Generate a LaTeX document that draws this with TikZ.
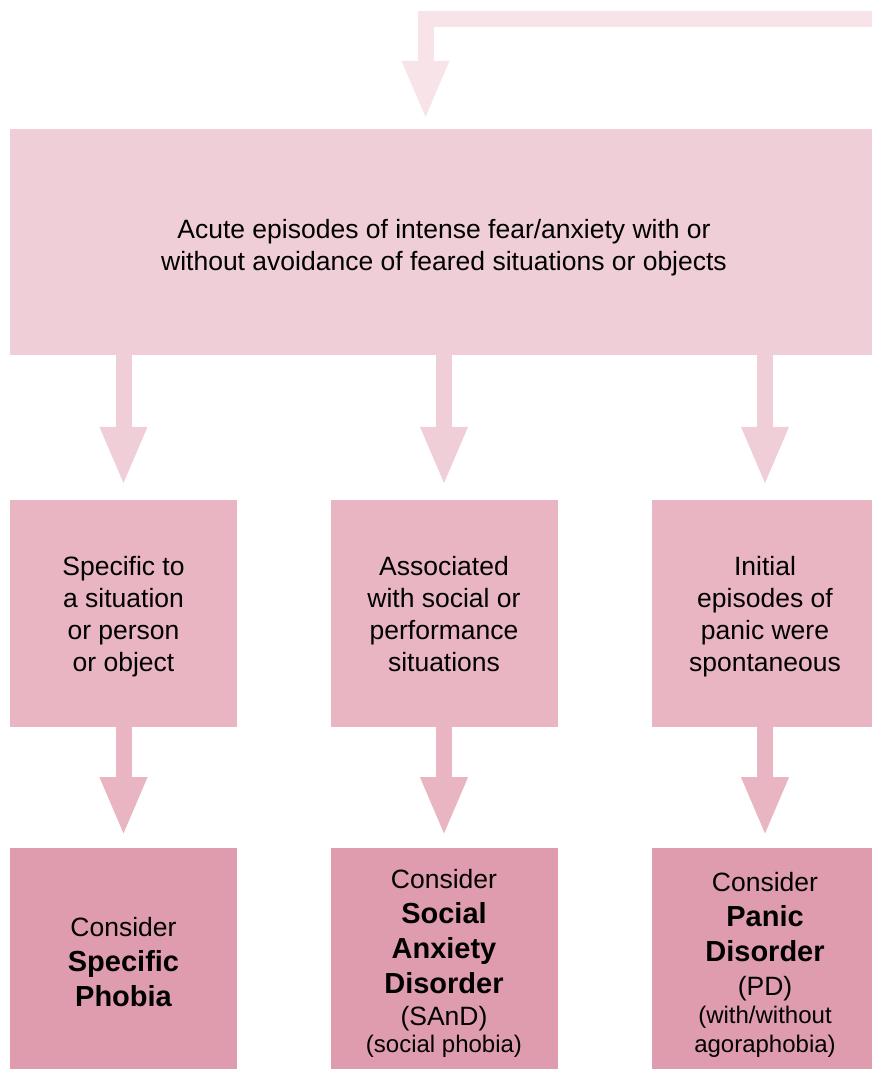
\documentclass[tikz,border=0pt]{standalone}
\usepackage{fontspec}
\setmainfont{Liberation Sans}
\usetikzlibrary{positioning,arrows.meta}
\definecolor{feedpink}{HTML}{F7E3E8}
\definecolor{toppink}{HTML}{F0CED8}
\definecolor{midpink}{HTML}{E9B5C2}
\definecolor{lowpink}{HTML}{E09CAF}
\newcommand{\bigtxt}{\fontsize{26.5}{32}\selectfont}
\newcommand{\boldtxt}{\fontsize{29}{35}\selectfont\bfseries}
\newcommand{\smalltxt}{\fontsize{24}{29}\selectfont}
\newcommand{\lift}[1]{\rule{0pt}{#1}}
\newcommand{\sink}{\rule[-5.6pt]{0pt}{5.6pt}}
\tikzset{
    symptom/.style = {fill = toppink, minimum width = 868pt, minimum height = 226pt,
                      align = center, font = \bigtxt},
    pattern/.style = {fill = midpink, minimum width = 227pt, minimum height = 227pt,
                      inner sep = 0pt, align = center, font = \bigtxt},
    verdict/.style = {fill = lowpink, minimum width = 227pt, minimum height = 221pt,
                      inner sep = 0pt, align = center, font = \bigtxt},
    blockarrow/.style = {line width = 16pt, -{Triangle[width = 43pt, length = 59pt]}},
}

\begin{document}
\begin{tikzpicture}[x = 1pt, y = -1pt]
    \useasboundingbox (0,0) rectangle (872,1069);

    \node (top) [symptom] at (444,242)
        {\lift{30pt}Acute episodes of intense fear/anxiety with or\\
         without avoidance of feared situations or objects};

    \node (spec) [pattern] at (123.5,613.5) {\lift{25.5pt}Specific to\\a situation\\or person\\or object};
    \node (soc) [pattern] at (444,613.5) {\lift{25.5pt}Associated\\with social or\\performance\\situations\sink};
    \node (pan) [pattern] at (765,613.5) {\lift{25.5pt}Initial\\episodes of\\panic were\\spontaneous};

    \node (specdx) [verdict, below = 121pt of spec]
        {\lift{25.5pt}Consider\\[3pt]{\boldtxt Specific}\\[3pt]{\boldtxt Phobia}};
    \node (socdx) [verdict, below = 121pt of soc]
        {\lift{28.5pt}Consider\\[3pt]{\boldtxt Social}\\[3pt]{\boldtxt Anxiety}\\[3pt]{\boldtxt Disorder}\\%
         (SAnD)\\[-5pt]{\smalltxt (social phobia)}};
    \node (pandx) [verdict, below = 121pt of pan]
        {\lift{31.5pt}Consider\\[3pt]{\boldtxt Panic}\\[3pt]{\boldtxt Disorder}\\[2pt](PD)\\[-4pt]%
         {\smalltxt (with/without}\\[-3pt]{\smalltxt agoraphobia)}};

    % feedback into the top box
    \coordinate (back) at (880,19);
    \draw [blockarrow, feedpink, line join = miter, shorten > = 9pt]
        (back) -| ([xshift = -18.5pt]top.north);

    \foreach \k in {spec, soc, pan}
        \draw [blockarrow, toppink, shorten > = 14pt] (top.south -| \k.north) -- (\k.north);
    \foreach \k in {spec, soc, pan}
        \draw [blockarrow, midpink, shorten > = 12pt] (\k.south) -- (\k dx.north);
\end{tikzpicture}
\end{document}
